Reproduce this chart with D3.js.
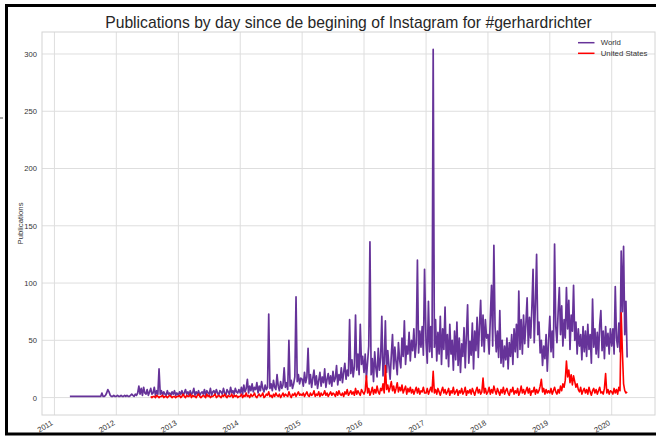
<!DOCTYPE html>
<html><head><meta charset="utf-8">
<script src="https://cdn.jsdelivr.net/npm/d3@7"></script>
<style>
body{margin:0;background:#fff}
svg{display:block}
text{font-family:"Liberation Sans",Arial,Helvetica,sans-serif}
</style>
</head><body>
<svg id="chart" width="656" height="437"></svg>
<script>
// ---------- DATA (weekly readings of the daily series) ----------
const chartTitle = "Publications by day since de begining of Instagram for #gerhardrichter";
const yLabel = "Publications";
const seriesNames = ["World", "United States"];
const seriesColors = ["#663399", "#ff0000"];
const yTickValues = [0, 50, 100, 150, 200, 250, 300];
const xTickYears = [2011, 2012, 2013, 2014, 2015, 2016, 2017, 2018, 2019, 2020];

// World: first value is week 13 of 2011
const worldFirstYear = 2011, worldFirstWeek = 13;
const world2011 = [1,1,1,1,1,1,1,1,1,1,1,1,1,1,1,1,1,1,1,1,1,1,1,1,1,1,1,4,1,1,2,4,7,5,2,1,1,2,1];
const world2012 = [1,2,1,1,2,1,1,2,1,2,1,1,2,3,2,1,3,2,4,10,3,8,2,9,4,3,7,2,5,8,3,4,9,2,6,3,25,3,6,2,5,3,2,6,3,4,2,5,3,6,2,4];
const world2013 = [2,5,3,6,2,4,7,3,5,2,6,3,4,8,2,5,3,6,2,4,5,3,7,2,6,4,3,8,2,5,6,3,7,4,2,6,5,3,8,4,2,7,5,3,9,4,6,3,8,5,4,7];
const world2014 = [4,9,3,11,5,8,16,4,10,6,12,5,9,7,13,4,10,6,14,8,5,11,7,9,73,8,12,6,15,9,7,20,10,6,14,8,11,26,9,13,7,50,10,15,8,12,18,88,14,20,12,17];
const world2015 = [16,10,22,13,18,43,12,20,9,17,24,11,19,8,15,22,10,18,13,25,9,16,21,12,19,10,23,14,17,28,11,20,15,26,13,22,30,16,24,19,68,21,33,18,27,72,24,38,20,64,29,36];
const world2016 = [22,38,17,31,45,136,20,34,14,40,26,18,43,24,35,71,19,30,67,22,41,28,16,37,55,25,44,31,20,48,33,26,52,36,67,29,45,38,57,32,50,41,60,35,47,120,39,58,44,62,37,112];
const world2017 = [48,30,84,40,62,35,304,44,68,32,57,38,71,29,60,42,79,34,55,27,64,38,50,24,58,33,66,28,52,22,47,36,61,26,54,81,30,49,37,65,25,58,41,70,35,63,85,45,72,40,68,52];
const world2018 = [55,38,70,98,45,133,62,40,58,35,76,30,50,27,45,33,52,25,48,36,55,29,60,40,64,35,93,42,68,38,72,47,65,87,44,70,52,78,112,48,82,125,55,66,39,50,28,45,34,55,23,48];
const world2019 = [71,40,58,35,134,62,48,75,96,55,80,45,68,52,96,60,85,42,72,58,98,50,66,38,60,45,55,33,62,40,58,36,64,42,55,30,86,44,60,38,57,35,63,76,41,58,34,62,45,56,38,60];
const world2020 = [45,60,38,97,52,44,65,40,128,75,132,55,84,35];

// United States: first value is week 29 of 2012
const usFirstYear = 2012, usFirstWeek = 29;
const us2012 = [1,0,1,1,0,2,1,0,1,1,2,0,1,1,0,1,2,1,0,1,1,0,1];
const us2013 = [1,2,0,1,3,1,0,2,1,1,3,0,2,1,1,0,2,3,1,0,1,2,1,0,3,1,2,0,1,1,2,3,0,1,2,1,0,2,1,3,1,0,2,1,1,3,0,2,1,2,0,1];
const us2014 = [1,3,0,2,1,4,1,2,0,3,1,2,4,1,0,2,3,1,2,4,0,1,3,2,5,1,2,0,3,1,4,2,1,3,0,2,4,1,3,2,1,5,2,0,3,2,4,1,3,5,2,3];
const us2015 = [2,4,1,3,5,2,1,4,2,3,6,1,3,2,5,1,4,2,3,6,2,4,1,3,5,2,4,3,1,5,2,6,3,2,4,1,5,3,7,2,4,6,3,5,2,8,3,6,4,2,7,5];
const us2016 = [3,6,19,4,8,2,5,9,3,7,4,10,5,3,8,6,12,4,28,7,11,5,9,14,6,10,4,8,13,5,9,6,11,4,7,10,3,8,5,9,4,7,3,6,9,4,8,3,6,5,9,4];
const us2017 = [4,8,3,6,9,5,23,4,7,3,8,5,2,6,9,4,7,3,5,8,2,6,4,9,3,5,7,2,6,4,8,3,5,9,2,6,4,7,3,8,5,2,6,9,4,7,3,5,17,4,8,3];
const us2018 = [5,9,3,7,4,10,6,3,8,5,2,7,4,9,3,6,8,4,2,7,5,9,3,6,4,8,2,5,10,4,7,3,6,9,4,8,2,6,5,9,3,7,4,6,10,16,5,8,3,7,4,6];
const us2019 = [4,8,3,6,9,5,3,7,4,10,6,12,9,15,32,18,24,13,20,11,19,14,9,12,7,5,9,3,6,8,4,7,3,9,5,2,6,8,4,7,3,6,9,4,5,3,8,21,4,7,3,6];
const us2020 = [5,3,8,4,7,3,9,6,74,40,12,6,4,5];

// ---------- BUILD ----------
function build(yearArrays, firstYear, firstWeek) {
  const pts = [];
  yearArrays.forEach((arr, k) => {
    const year = firstYear + k;
    const off = k === 0 ? firstWeek : 0;
    arr.forEach((v, i) => pts.push({date: new Date(year, 0, 1 + 7 * (i + off)), value: v}));
  });
  return pts;
}
const world = build([world2011, world2012, world2013, world2014, world2015, world2016, world2017, world2018, world2019, world2020], worldFirstYear, worldFirstWeek);
const us = build([us2012, us2013, us2014, us2015, us2016, us2017, us2018, us2019, us2020], usFirstYear, usFirstWeek);
const series = [world, us];

// ---------- LAYOUT ----------
const svg = d3.select("#chart");
const L = 42, R = 655, T = 32, B = 415;

const allPts = world.concat(us);
const xExt = d3.extent(allPts, d => d.date);
const xSpan = xExt[1] - xExt[0];
const x = d3.scaleTime()
  .domain([new Date(+xExt[0] - 0.05 * xSpan), new Date(+xExt[1] + 0.05 * xSpan)])
  .range([L, R]);
const yMax = d3.max(allPts, d => d.value), yMin = 0;
const ySpan = yMax - yMin;
const y = d3.scaleLinear().domain([yMin - 0.05 * ySpan, yMax + 0.05 * ySpan]).range([B, T]);

const xTicks = xTickYears.map(yr => new Date(yr, 0, 1));

// grid
const g = svg.append("g");
g.selectAll(".hg").data(yTickValues).join("line")
  .attr("x1", L).attr("x2", R).attr("y1", d => y(d)).attr("y2", d => y(d))
  .attr("stroke", "#dedede").attr("stroke-width", 1);
g.selectAll(".vg").data(xTicks).join("line")
  .attr("x1", d => x(d)).attr("x2", d => x(d)).attr("y1", T).attr("y2", B)
  .attr("stroke", "#dedede").attr("stroke-width", 1);
// spines
svg.append("rect").attr("x", L).attr("y", T).attr("width", R - L).attr("height", B - T)
  .attr("fill", "none").attr("stroke", "#d4d4d4").attr("stroke-width", 1);

// y axis via d3 axis
const yAxis = svg.append("g").attr("transform", `translate(${L},0)`)
  .call(d3.axisLeft(y).tickValues(yTickValues).tickSize(0).tickPadding(5).tickFormat(d3.format("d")));
yAxis.select(".domain").remove();
yAxis.selectAll("text").attr("font-size", "7.6px").attr("fill", "#333")
  .attr("font-family", '"Liberation Sans",Arial,sans-serif');

// x axis via d3 axis, rotated labels
const xAxis = svg.append("g").attr("transform", `translate(0,${B})`)
  .call(d3.axisBottom(x).tickValues(xTicks).tickSize(0).tickFormat(d3.timeFormat("%Y")));
xAxis.select(".domain").remove();
xAxis.selectAll("text")
  .attr("font-size", "7.6px").attr("fill", "#333")
  .attr("font-family", '"Liberation Sans",Arial,sans-serif')
  .attr("text-anchor", "end").attr("dy", null).attr("y", null)
  .attr("transform", "translate(-1.5,9.5) rotate(-30)");

// lines
const line = d3.line().x(d => x(d.date)).y(d => y(d.value));
const widths = [1.7, 1.6];
series.forEach((s, i) => {
  svg.append("path").datum(s).attr("d", line)
    .attr("fill", "none").attr("stroke", seriesColors[i])
    .attr("stroke-width", widths[i]).attr("stroke-linejoin", "round");
});

// title
svg.append("text").attr("x", (L + R) / 2).attr("y", 28)
  .attr("text-anchor", "middle").attr("font-size", "15.7px").attr("fill", "#262626")
  .text(chartTitle);

// y label
svg.append("text").attr("transform", `translate(22.5,${(T + B) / 2}) rotate(-90)`)
  .attr("text-anchor", "middle").attr("font-size", "7.8px").attr("fill", "#333")
  .text(yLabel);

// legend
const lg = svg.append("g").attr("transform", "translate(578,42.7)");
seriesNames.forEach((n, i) => {
  const row = lg.append("g").attr("transform", `translate(0,${i * 10.6})`);
  row.append("line").attr("x1", 0).attr("x2", 16.5).attr("y1", 0).attr("y2", 0)
    .attr("stroke", seriesColors[i]).attr("stroke-width", 1.5);
  row.append("text").attr("x", 22.7).attr("y", 0).attr("dy", "0.35em")
    .attr("font-size", "7.8px").attr("fill", "#333").text(n);
});

// outer black frame of the picture
svg.append("rect").attr("x", 6.5).attr("y", 5.5).attr("width", 700).attr("height", 428.5)
  .attr("fill", "none").attr("stroke", "#000").attr("stroke-width", 3);
svg.append("line").attr("x1", 0).attr("x2", 3).attr("y1", 118).attr("y2", 118)
  .attr("stroke", "#555").attr("stroke-width", 1);
</script>
</body></html>
